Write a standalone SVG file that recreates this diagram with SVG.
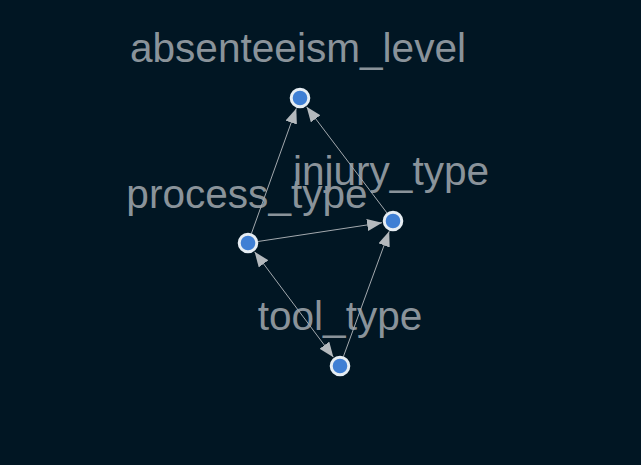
<svg xmlns="http://www.w3.org/2000/svg" width="641" height="465" viewBox="0 0 641 465">
<style>
.lbl{font-family:"Liberation Sans",Arial,sans-serif;font-size:40.6px;fill:#8a939a;text-anchor:middle}
.edge{stroke:#a3a9ae;stroke-width:1;fill:none}
.nd{fill:#3f7fd4;stroke:#e6edf3;stroke-width:3}
</style>
<defs>
<marker id="arr" markerUnits="userSpaceOnUse" markerWidth="16" markerHeight="13" refX="15" refY="6" orient="auto-start-reverse">
<path d="M0,0 L15,6 L0,12 z" fill="#b4b9bd"/>
</marker>
</defs>
<rect width="641" height="465" fill="#011623"/>
<g id="labels">
<text class="lbl" x="298" y="62">absenteeism_level</text>
<text class="lbl" x="247" y="208">process_type</text>
<text class="lbl" x="391" y="185">injury_type</text>
<text class="lbl" x="340" y="330">tool_type</text>
</g>
<g id="edges">
<line class="edge" x1="251.4" y1="233.6" x2="296.3" y2="108.4" marker-end="url(#arr)"/>
<line class="edge" x1="387.0" y1="213.0" x2="306.6" y2="106.8" marker-end="url(#arr)"/>
<line class="edge" x1="257.9" y1="241.5" x2="382.1" y2="222.7" marker-end="url(#arr)"/>
<line class="edge" x1="343.4" y1="356.6" x2="389.2" y2="231.3" marker-end="url(#arr)"/>
<line class="edge" x1="254.6" y1="251.8" x2="333.4" y2="357.2" marker-start="url(#arr)" marker-end="url(#arr)"/>
</g>
<g id="node-absenteeism_level"><circle class="nd" cx="300" cy="98" r="8.8"/></g>
<g id="node-process_type"><circle class="nd" cx="248" cy="243" r="8.8"/></g>
<g id="node-injury_type"><circle class="nd" cx="393" cy="221" r="8.8"/></g>
<g id="node-tool_type"><circle class="nd" cx="340" cy="366" r="8.8"/></g>
</svg>
